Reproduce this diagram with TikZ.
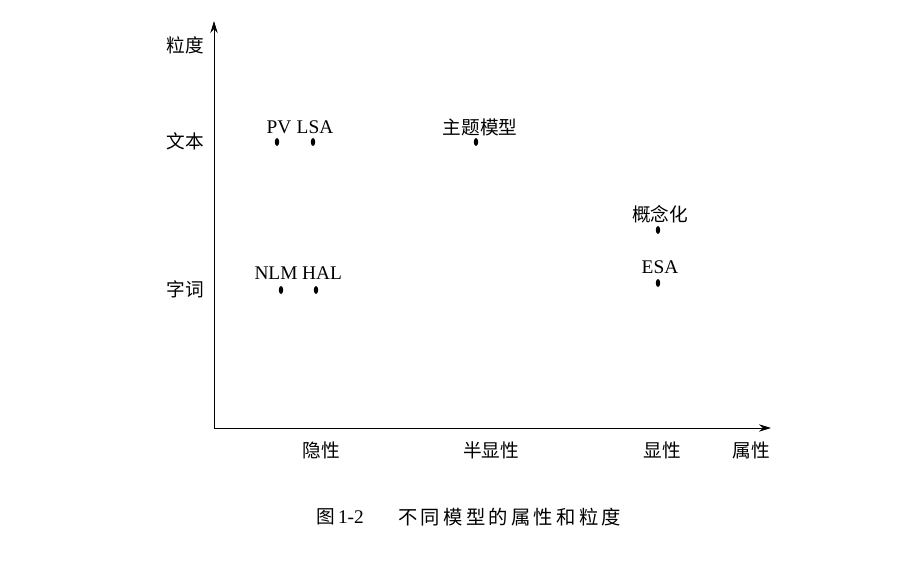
\documentclass[tikz,border=0pt]{standalone}
\usepackage{fontspec}
\setmainfont{Liberation Serif}
\newfontfamily\cjk{Noto Sans CJK SC}
\newfontfamily\cjkcap[LetterSpace=17]{Noto Sans CJK SC}
\usetikzlibrary{arrows.meta}
\begin{document}
\begin{tikzpicture}[x=0.75pt,y=-0.75pt,
  lab/.style={inner sep=0pt,font=\fontsize{14.5}{16}\selectfont},
  clab/.style={inner sep=0pt,font=\cjk\fontsize{14}{16}\selectfont},
  axis/.style={line width=0.7pt,-{Stealth[length=9pt,width=5.5pt]}}]
\useasboundingbox[fill=white] (0,0) rectangle (922,567);
% axes
\coordinate (O) at (214,428);
\coordinate (Y) at (214,21);
\coordinate (X) at (771,428);
\draw[axis] (O) -- (Y);
\draw[axis] (O) -- (X);
% y labels
\node[clab] (ylab) at (185,45) {粒度};
\node[clab] (ywb) at (185,141) {文本};
\node[clab] (yzc) at (185,289) {字词};
% x labels
\node[clab] (xyx) at (321,450) {隐性};
\node[clab] (xbx) at (491,450) {半显性};
\node[clab] (xxx) at (662,450) {显性};
\node[clab] (xlab) at (751,450) {属性};
% points
\fill (277,142) ellipse (2.2 and 4) coordinate (pv);
\fill (313,142) ellipse (2.2 and 4) coordinate (lsa);
\fill (476,142) ellipse (2.2 and 4) coordinate (tm);
\fill (658,230) ellipse (2.2 and 4) coordinate (gn);
\fill (658,283) ellipse (2.2 and 4) coordinate (esa);
\fill (281,290) ellipse (2.2 and 4) coordinate (nlm);
\fill (316,290) ellipse (2.2 and 4) coordinate (hal);
% point labels
\node[lab] (pvl) at (279,127) {PV};
\node[lab] (lsal) at (315,127) {LSA};
\node[clab] (tml) at (480,127) {主题模型};
\node[clab] (gnl) at (660,214) {概念化};
\node[lab] (esal) at (660,267) {ESA};
\node[lab] (nlml) at (276,273) {NLM};
\node[lab] (hall) at (322,273) {HAL};
% caption
\node[clab,anchor=west] (cap1) at (316,517) {图\,\fontspec{Liberation Serif}\fontsize{14.5}{16}\selectfont 1-2};
\node[inner sep=0pt,anchor=west,font=\cjkcap\fontsize{14.5}{16}\selectfont] (cap2) at (398,517) {不同模型的属性和粒度};
\end{tikzpicture}
\end{document}
